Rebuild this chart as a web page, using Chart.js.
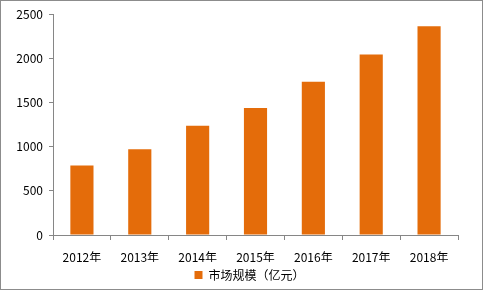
<!DOCTYPE html>
<html>
<head>
<meta charset="utf-8">
<script src="https://cdn.jsdelivr.net/npm/chart.js@4"></script>
<style>
  html, body { margin: 0; padding: 0; background: #fff; }
  .frame {
    width: 483px;
    height: 290px;
    box-sizing: border-box;
    border: 1px solid #8c8c8c;
    position: relative;
  }
  .frame canvas { display: block; }
</style>
</head>
<body>
<div class="frame">
  <canvas id="chart" width="481" height="288"></canvas>
</div>
<script>
const years = ["2012年", "2013年", "2014年", "2015年", "2016年", "2017年", "2018年"];
const marketSize = [788, 970, 1236, 1438, 1735, 2043, 2363];
const yTicks = [0, 500, 1000, 1500, 2000, 2500];
const seriesName = "市场规模（亿元）";

const axisColor = "#868686";
const barColor = "#E46C0A";

Chart.defaults.font.family = "'Noto Sans CJK SC', 'DejaVu Sans', sans-serif";
Chart.defaults.font.size = 12;
Chart.defaults.color = "#000";

// legend in the original sits a bit right of / below the auto position
const legendNudge = {
  id: "legendNudge",
  afterLayout(chart) {
    const lg = chart.legend;
    lg.left += 20;
    lg.right += 20;
    lg.top += 3;
    lg.bottom += 3;
  },
};

new Chart(document.getElementById("chart"), {
  type: "bar",
  data: {
    labels: years,
    datasets: [
      {
        label: seriesName,
        data: marketSize,
        backgroundColor: barColor,
        borderWidth: 0,
        categoryPercentage: 1,
        barPercentage: 0.4,
      },
    ],
  },
  options: {
    responsive: false,
    animation: false,
    layout: {
      padding: { top: 10, right: 24, left: 0, bottom: 1 },
    },
    scales: {
      y: {
        min: yTicks[0],
        max: yTicks[yTicks.length - 1],
        afterBuildTicks: (scale) => {
          scale.ticks = yTicks.map((v) => ({ value: v }));
        },
        ticks: {
          padding: 6,
          callback: (v) => String(v),
        },
        grid: {
          drawOnChartArea: false,
          tickLength: 4,
          color: axisColor,
        },
        border: { color: axisColor },
        afterFit: (scale) => {
          scale.width = 52;
        },
      },
      x: {
        ticks: { padding: 10 },
        grid: {
          offset: true,
          drawOnChartArea: false,
          tickLength: 5,
          color: axisColor,
        },
        border: { color: axisColor },
        afterFit: (scale) => {
          scale.height = 27;
        },
      },
    },
    plugins: {
      legend: {
        position: "bottom",
        labels: {
          boxWidth: 8,
          boxHeight: 8,
          padding: 4,
        },
      },
      tooltip: { enabled: false },
    },
  },
  plugins: [legendNudge],
});
</script>
</body>
</html>
